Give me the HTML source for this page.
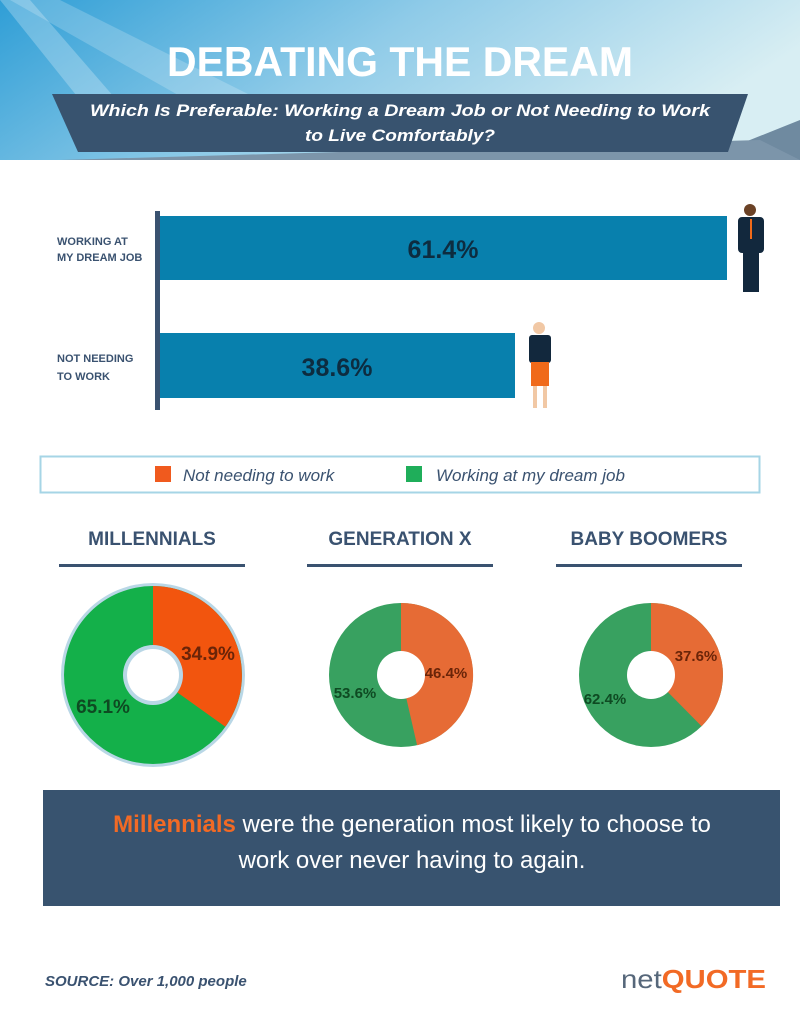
<!DOCTYPE html>
<html><head><meta charset="utf-8"><style>
body{margin:0;width:800px;height:1017px;overflow:hidden;background:#fff;font-family:"Liberation Sans",sans-serif;}
</style></head><body>
<svg width="800" height="1017" viewBox="0 0 800 1017" xmlns="http://www.w3.org/2000/svg" font-family="Liberation Sans, sans-serif">
<defs>
<linearGradient id="sky" x1="0" y1="0" x2="1" y2="0.3">
<stop offset="0" stop-color="#2f9ed6"/><stop offset="0.5" stop-color="#8fcbe8"/><stop offset="1" stop-color="#d8eef3"/>
</linearGradient>
</defs>
<rect x="0" y="0" width="800" height="160" fill="url(#sky)"/>
<polygon points="0,0 30,0 160,150 120,150" fill="#ffffff" opacity="0.25"/>
<polygon points="10,0 60,0 300,120 240,130" fill="#ffffff" opacity="0.2"/>
<polygon points="700,160 800,120 800,160" fill="#6f8aa0"/>
<polygon points="60,160 760,140 800,160" fill="#7c95aa"/>
<polygon points="52,94 748,94 728,152 78,152" fill="#38536f"/>
<text x="400" y="76" text-anchor="middle" font-size="42" font-weight="bold" fill="#ffffff" textLength="466" lengthAdjust="spacingAndGlyphs">DEBATING THE DREAM</text>
<text x="400" y="116" text-anchor="middle" font-size="17" font-style="italic" font-weight="bold" fill="#ffffff" textLength="620" lengthAdjust="spacingAndGlyphs">Which Is Preferable: Working a Dream Job or Not Needing to Work</text>
<text x="400" y="141" text-anchor="middle" font-size="17" font-style="italic" font-weight="bold" fill="#ffffff" textLength="190" lengthAdjust="spacingAndGlyphs">to Live Comfortably?</text>

<rect x="155" y="211" width="5" height="199" fill="#3a5270"/>
<rect x="160" y="216" width="567" height="64" fill="#0880ad"/>
<rect x="160" y="333" width="355" height="65" fill="#0880ad"/>
<text x="443" y="258" text-anchor="middle" font-size="25" font-weight="bold" fill="#0d2c40">61.4%</text>
<text x="337" y="376" text-anchor="middle" font-size="25" font-weight="bold" fill="#0d2c40">38.6%</text>
<g font-size="11" font-weight="bold" fill="#3a5270">
<text x="57" y="245">WORKING AT</text><text x="57" y="261">MY DREAM JOB</text>
<text x="57" y="362">NOT NEEDING</text><text x="57" y="380">TO WORK</text>
</g>
<circle cx="750" cy="210" r="6" fill="#6b4226"/>
<rect x="738" y="217" width="26" height="36" rx="4" fill="#12283d"/>
<rect x="743" y="250" width="16" height="42" fill="#12283d"/>
<rect x="750" y="219" width="2" height="20" fill="#f06a1a"/>
<circle cx="539" cy="328" r="6" fill="#f1c8a5"/>
<rect x="529" y="335" width="22" height="28" rx="3" fill="#12283d"/>
<rect x="531" y="362" width="18" height="24" fill="#f06a1a"/>
<rect x="533" y="386" width="4" height="22" fill="#f1c8a5"/><rect x="543" y="386" width="4" height="22" fill="#f1c8a5"/>

<rect x="40.5" y="456.5" width="719" height="36" fill="#fff" stroke="#a6d5e6" stroke-width="2"/>
<rect x="155" y="466" width="16" height="16" fill="#f05a1e"/>
<text x="183" y="481" font-size="17" font-style="italic" fill="#3a5270">Not needing to work</text>
<rect x="406" y="466" width="16" height="16" fill="#1fae5a"/>
<text x="436" y="481" font-size="17" font-style="italic" fill="#3a5270">Working at my dream job</text>

<g font-size="19" font-weight="bold" fill="#3a5270" text-anchor="middle">
<text x="152" y="545">MILLENNIALS</text><text x="400" y="545">GENERATION X</text><text x="649" y="545">BABY BOOMERS</text>
</g>
<g fill="#3a5270"><rect x="59" y="564" width="186" height="3"/><rect x="307" y="564" width="186" height="3"/><rect x="556" y="564" width="186" height="3"/></g>

<circle cx="153" cy="675" r="92" fill="#b9d7e6"/>
<circle cx="153" cy="675" r="89" fill="#14b04a"/>
<path d="M153,675 L153,586 A89,89 0 0 1 225.3,726.8 Z" fill="#f2550e"/>
<circle cx="153" cy="675" r="30" fill="#b9d7e6"/>
<circle cx="153" cy="675" r="26" fill="#fff"/>
<text x="208" y="660" text-anchor="middle" font-size="19" font-weight="bold" fill="#6a2408">34.9%</text>
<text x="103" y="713" text-anchor="middle" font-size="19" font-weight="bold" fill="#0e4a22">65.1%</text>

<circle cx="401" cy="675" r="72" fill="#38a160"/>
<path d="M401,675 L401,603 A72,72 0 0 1 417.1,745.2 Z" fill="#e66b35"/>
<circle cx="401" cy="675" r="24" fill="#fff"/>
<text x="446" y="678" text-anchor="middle" font-size="15" font-weight="bold" fill="#6a2408">46.4%</text>
<text x="355" y="698" text-anchor="middle" font-size="15" font-weight="bold" fill="#0e4a22">53.6%</text>

<circle cx="651" cy="675" r="72" fill="#38a160"/>
<path d="M651,675 L651,603 A72,72 0 0 1 701.6,726.2 Z" fill="#e66b35"/>
<circle cx="651" cy="675" r="24" fill="#fff"/>
<text x="696" y="661" text-anchor="middle" font-size="15" font-weight="bold" fill="#6a2408">37.6%</text>
<text x="605" y="704" text-anchor="middle" font-size="15" font-weight="bold" fill="#0e4a22">62.4%</text>

<rect x="43" y="790" width="737" height="116" fill="#38536f"/>
<text x="412" y="832" text-anchor="middle" font-size="24" fill="#ffffff"><tspan font-weight="bold" fill="#f26a25">Millennials</tspan> were the generation most likely to choose to</text>
<text x="412" y="868" text-anchor="middle" font-size="24" fill="#ffffff">work over never having to again.</text>

<text x="45" y="986" font-size="15" font-style="italic" font-weight="bold" fill="#3a5270">SOURCE: Over 1,000 people</text>
<text x="621" y="988" font-size="26" fill="#56677a" textLength="145" lengthAdjust="spacingAndGlyphs">net<tspan font-weight="bold" fill="#f26a25">QUOTE</tspan></text>
</svg>
</body></html>
